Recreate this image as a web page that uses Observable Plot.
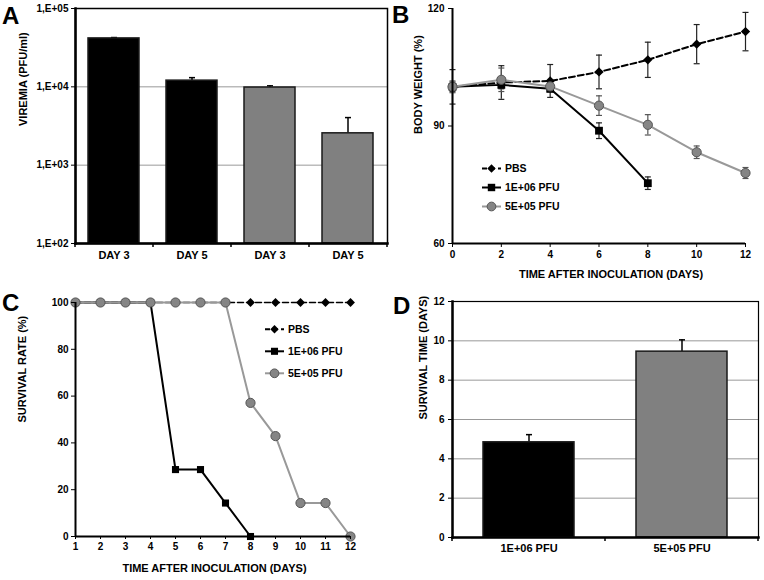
<!DOCTYPE html>
<html><head><meta charset="utf-8">
<script src="https://cdn.jsdelivr.net/npm/d3@7"></script>
<script src="https://cdn.jsdelivr.net/npm/@observablehq/plot@0.6"></script>
<style>
body{margin:0;background:#fff;}
#fig{position:relative;width:764px;height:580px;background:#fff;font-family:"Liberation Sans",Arial,sans-serif;}
#fig > svg{position:absolute;}
</style></head><body><div id="fig"></div>
<script>
// ---------- DATA ----------
// Panel A: viremia
const viremiaGroups = ["1E+06 PFU", "1E+06 PFU", "5E+05 PFU", "5E+05 PFU"];
const viremiaDays = ["DAY 3", "DAY 5", "DAY 3", "DAY 5"];
const viremiaMean = [41500, 12000, 9800, 2550];
const viremiaErr = [1100, 1100, 500, 1500];
const viremiaTicks = [100, 1000, 10000, 100000];

// Panel B: body weight
const weightDays = [0, 2, 4, 6, 8, 10, 12];
const pbsWeight = [100, 101.1, 101.5, 103.8, 106.9, 110.9, 114.1];
const pbsWeightSd = [4.4, 4.3, 4.2, 4.3, 4.5, 5.0, 4.9];
const highWeightDays = [0, 2, 4, 6, 8];
const highWeight = [100, 100.5, 99.5, 88.8, 75.4];
const highWeightSd = [1.2, 1.0, 0.8, 2.0, 1.6];
const lowWeight = [100, 101.8, 100.1, 95.2, 90.3, 83.3, 78.0];
const lowWeightSd = [1.5, 3.0, 1.0, 2.5, 2.6, 1.6, 1.4];

// Panel C: survival rate
const survDays = [1, 2, 3, 4, 5, 6, 7, 8, 9, 10, 11, 12];
const pbsSurv = [100, 100, 100, 100, 100, 100, 100, 100, 100, 100, 100, 100];
const highSurvDays = [1, 2, 3, 4, 5, 6, 7, 8];
const highSurv = [100, 100, 100, 100, 28.6, 28.6, 14.3, 0];
const lowSurv = [100, 100, 100, 100, 100, 100, 100, 57.1, 42.9, 14.3, 14.3, 0];

// Panel D: survival time
const survTimeGroups = ["1E+06 PFU", "5E+05 PFU"];
const survTimeMean = [4.84, 9.45];
const survTimeErr = [0.39, 0.6];

const groupColors = ["#000000", "#808080"];
const seriesNames = ["PBS", "1E+06 PFU", "5E+05 PFU"];

// ---------- HELPERS ----------
const FONT = '"Liberation Sans", Arial, sans-serif';
const baseStyle = {fontFamily: FONT, fontWeight: "bold", fontSize: "10px", color: "#000", background: "transparent", overflow: "visible"};
const cap = {draw(ctx, size) { const w = Math.sqrt(size / Math.PI); ctx.moveTo(-w, 0); ctx.lineTo(w, 0); }};
const fig = document.getElementById("fig");
function place(svg, left, top) { svg.style.left = left + "px"; svg.style.top = top + "px"; fig.appendChild(svg); return svg; }

function bandTicks(plot, n) {
  const sx = plot.scale("x"), sy = plot.scale("y");
  const [r0, r1] = sx.range;
  const yb = Math.max(...sy.range);
  const xs = d3.range(n + 1).map(i => r0 + i * (r1 - r0) / n);
  d3.select(plot).append("g").selectAll("line").data(xs).join("line")
    .attr("x1", d => d).attr("x2", d => d).attr("y1", yb).attr("y2", yb + 4)
    .attr("stroke", "#000").attr("stroke-width", 1.5);
}

function addLegend(svg, x0, y0, gap, items) {
  const g = d3.select(svg).append("g").attr("text-anchor", "start");
  items.forEach((it, i) => {
    const y = y0 + i * gap;
    g.append("line").attr("x1", x0).attr("x2", x0 + 19).attr("y1", y).attr("y2", y)
      .attr("stroke", it.stroke).attr("stroke-width", 2).attr("stroke-dasharray", it.dash || null);
    g.append("path").attr("transform", `translate(${x0 + 9.5},${y})`)
      .attr("d", d3.symbol(it.symbol, it.size)())
      .attr("fill", it.fill).attr("stroke", it.mstroke || "none");
    g.append("text").attr("x", x0 + 23).attr("y", y).attr("dy", "0.35em").attr("text-anchor", "start")
      .attr("font-size", 10.5).attr("font-weight", "bold").attr("font-family", FONT).text(it.label);
  });
}

// ---------- PANEL A ----------
const dataA = viremiaDays.map((d, i) => ({key: String(i), label: d, group: viremiaGroups[i], mean: viremiaMean[i], hi: viremiaMean[i] + viremiaErr[i]}));
const plotA = Plot.plot({
  width: 390, height: 290, marginLeft: 75, marginRight: 3, marginTop: 8, marginBottom: 47,
  style: baseStyle,
  x: {domain: dataA.map(d => d.key), paddingInner: 0.346, paddingOuter: 0.173, label: null},
  y: {type: "log", domain: [100, 100000], label: null},
  color: {domain: survTimeGroups, range: groupColors},
  marks: [
    Plot.ruleY([1000, 10000], {stroke: "#999", strokeWidth: 1}),
    Plot.ruleX(dataA, {x: "key", y1: "mean", y2: "hi", stroke: "#000", strokeWidth: 1.5}),
    Plot.dot(dataA, {x: "key", y: "hi", symbol: cap, r: 3, stroke: "#000", strokeWidth: 1.5, fill: "none"}),
    Plot.barY(dataA, {x: "key", y1: 100, y2: "mean", fill: "group", stroke: "#1a1a1a", strokeWidth: 1.5}),
    Plot.frame({stroke: "#000", strokeWidth: 1.5}),
    Plot.frame({anchor: "left", stroke: "#000", strokeWidth: 2.5}),
    Plot.frame({anchor: "bottom", stroke: "#000", strokeWidth: 2.5}),
    Plot.axisY({ticks: viremiaTicks, tickFormat: d => "1,E+0" + Math.round(Math.log10(d)), tickSize: 4, tickPadding: 3, fontSize: 10, label: null}),
    Plot.axisX({tickSize: 0, tickPadding: 8, tickFormat: k => dataA[+k].label, fontSize: 11, label: null}),
    Plot.text(["VIREMIA (PFU/ml)"], {frameAnchor: "left", rotate: -90, dx: -52, dy: 0, fontSize: 11, fontWeight: "bold"})
  ]
});
bandTicks(plotA, 4);
place(plotA, 0, 0);

// ---------- PANEL B ----------
const pbsRows = weightDays.map((d, i) => ({day: d, w: pbsWeight[i], lo: pbsWeight[i] - pbsWeightSd[i], hi: pbsWeight[i] + pbsWeightSd[i]}));
const highRows = highWeightDays.map((d, i) => ({day: d, w: highWeight[i], lo: highWeight[i] - highWeightSd[i], hi: highWeight[i] + highWeightSd[i]}));
const lowRows = weightDays.map((d, i) => ({day: d, w: lowWeight[i], lo: lowWeight[i] - lowWeightSd[i], hi: lowWeight[i] + lowWeightSd[i]}));
function errMarks(rows, color) {
  return [
    Plot.ruleX(rows, {x: "day", y1: "lo", y2: "hi", stroke: color, strokeWidth: 1.2}),
    Plot.dot(rows, {x: "day", y: "lo", symbol: cap, r: 3, stroke: color, strokeWidth: 1.2, fill: "none"}),
    Plot.dot(rows, {x: "day", y: "hi", symbol: cap, r: 3, stroke: color, strokeWidth: 1.2, fill: "none"})
  ];
}
const plotB = Plot.plot({
  width: 374, height: 290, marginLeft: 62, marginRight: 19, marginTop: 8, marginBottom: 47,
  style: baseStyle,
  x: {domain: [0, 12], label: null},
  y: {domain: [60, 120], label: null},
  marks: [
    ...errMarks(pbsRows, "#222"),
    ...errMarks(highRows, "#222"),
    ...errMarks(lowRows, "#555"),
    Plot.line(pbsRows, {x: "day", y: "w", stroke: "#000", strokeWidth: 2, strokeDasharray: "6,3"}),
    Plot.dot(pbsRows, {x: "day", y: "w", symbol: "diamond2", r: 4.2, fill: "#000", stroke: "none"}),
    Plot.line(highRows, {x: "day", y: "w", stroke: "#000", strokeWidth: 2}),
    Plot.dot(highRows, {x: "day", y: "w", symbol: "square", r: 4.4, fill: "#000"}),
    Plot.line(lowRows, {x: "day", y: "w", stroke: "#999", strokeWidth: 2}),
    Plot.dot(lowRows, {x: "day", y: "w", r: 4.6, fill: "#858585", stroke: "#555", strokeWidth: 1}),
    Plot.ruleX([0], {stroke: "#000", strokeWidth: 2}),
    Plot.ruleY([60], {stroke: "#000", strokeWidth: 2}),
    Plot.axisY({ticks: [60, 90, 120], tickSize: 4, tickPadding: 4, fontSize: 10, label: null}),
    Plot.axisX({ticks: weightDays, tickSize: 4, tickPadding: 3, fontSize: 10, label: null}),
    Plot.text(["BODY WEIGHT (%)"], {frameAnchor: "left", rotate: -90, dx: -34, dy: 8, fontSize: 11, fontWeight: "bold"}),
    Plot.text(["TIME AFTER INOCULATION (DAYS)"], {frameAnchor: "bottom", dx: 12, dy: 34, fontSize: 11, fontWeight: "bold"})
  ]
});
addLegend(plotB, 92, 168.5, 19, [
  {label: seriesNames[0], stroke: "#000", dash: "5,3", symbol: d3.symbolDiamond2, size: 45, fill: "#000"},
  {label: seriesNames[1], stroke: "#000", symbol: d3.symbolSquare, size: 55, fill: "#000"},
  {label: seriesNames[2], stroke: "#999", symbol: d3.symbolCircle, size: 60, fill: "#858585", mstroke: "#555"}
]);
place(plotB, 390, 0);

// ---------- PANEL C ----------
const pbsSurvRows = survDays.map((d, i) => ({day: d, s: pbsSurv[i]}));
const highSurvRows = highSurvDays.map((d, i) => ({day: d, s: highSurv[i]}));
const lowSurvRows = survDays.map((d, i) => ({day: d, s: lowSurv[i]}));
const plotC = Plot.plot({
  width: 390, height: 290, marginLeft: 75, marginRight: 40, marginTop: 12, marginBottom: 44,
  style: baseStyle,
  x: {domain: [1, 12], label: null},
  y: {domain: [0, 100], label: null},
  marks: [
    Plot.line(pbsSurvRows, {x: "day", y: "s", stroke: "#000", strokeWidth: 1.5, strokeDasharray: "6,3"}),
    Plot.dot(pbsSurvRows, {x: "day", y: "s", symbol: "diamond2", r: 4, fill: "#000", stroke: "none"}),
    Plot.line(highSurvRows, {x: "day", y: "s", stroke: "#000", strokeWidth: 2}),
    Plot.dot(highSurvRows, {x: "day", y: "s", symbol: "square", r: 4, fill: "#000"}),
    Plot.line(lowSurvRows, {x: "day", y: "s", stroke: "#999", strokeWidth: 2}),
    Plot.dot(lowSurvRows, {x: "day", y: "s", r: 4.6, fill: "#858585", stroke: "#555", strokeWidth: 1}),
    Plot.ruleX([1], {stroke: "#000", strokeWidth: 2}),
    Plot.ruleY([0], {stroke: "#000", strokeWidth: 2}),
    Plot.axisY({ticks: [0, 20, 40, 60, 80, 100], tickSize: 4, tickPadding: 3, fontSize: 10, label: null}),
    Plot.axisX({ticks: survDays, tickSize: 3, tickPadding: 3, fontSize: 10, label: null}),
    Plot.text(["SURVIVAL RATE (%)"], {frameAnchor: "left", rotate: -90, dx: -53, dy: 3, fontSize: 11, fontWeight: "bold"}),
    Plot.text(["TIME AFTER INOCULATION (DAYS)"], {frameAnchor: "bottom", dx: 1.5, dy: 35.5, fontSize: 11, fontWeight: "bold"})
  ]
});
addLegend(plotC, 265, 39.3, 22, [
  {label: seriesNames[0], stroke: "#000", dash: "5,3", symbol: d3.symbolDiamond2, size: 45, fill: "#000"},
  {label: seriesNames[1], stroke: "#000", symbol: d3.symbolSquare, size: 50, fill: "#000"},
  {label: seriesNames[2], stroke: "#999", symbol: d3.symbolCircle, size: 60, fill: "#858585", mstroke: "#555"}
]);
place(plotC, 0, 290);

// ---------- PANEL D ----------
const dataD = survTimeGroups.map((g, i) => ({group: g, mean: survTimeMean[i], hi: survTimeMean[i] + survTimeErr[i]}));
const plotD = Plot.plot({
  width: 374, height: 290, marginLeft: 62, marginRight: 6, marginTop: 11, marginBottom: 43,
  style: baseStyle,
  x: {domain: survTimeGroups, paddingInner: 0.405, paddingOuter: 0.2025, label: null},
  y: {domain: [0, 12], label: null},
  color: {domain: survTimeGroups, range: groupColors},
  marks: [
    Plot.ruleY([2, 4, 6, 8, 10], {stroke: "#999", strokeWidth: 1}),
    Plot.ruleX(dataD, {x: "group", y1: "mean", y2: "hi", stroke: "#000", strokeWidth: 1.5}),
    Plot.dot(dataD, {x: "group", y: "hi", symbol: cap, r: 3, stroke: "#000", strokeWidth: 1.5, fill: "none"}),
    Plot.barY(dataD, {x: "group", y: "mean", fill: "group", stroke: "#1a1a1a", strokeWidth: 1.5}),
    Plot.frame({stroke: "#000", strokeWidth: 1.2}),
    Plot.frame({anchor: "left", stroke: "#000", strokeWidth: 2.5}),
    Plot.frame({anchor: "bottom", stroke: "#000", strokeWidth: 2.5}),
    Plot.axisY({ticks: [0, 2, 4, 6, 8, 10, 12], tickSize: 4, tickPadding: 4, fontSize: 10, label: null}),
    Plot.axisX({tickSize: 0, tickPadding: 7, fontSize: 11, label: null}),
    Plot.text(["SURVIVAL TIME (DAYS)"], {frameAnchor: "left", rotate: -90, dx: -29, dy: 0, fontSize: 11, fontWeight: "bold"})
  ]
});
bandTicks(plotD, 2);
place(plotD, 390, 290);

// ---------- PANEL LETTERS ----------
const overlay = d3.select(fig).append("svg").attr("width", 764).attr("height", 580)
  .style("left", "0px").style("top", "0px").style("pointer-events", "none");
const letters = [["A", 2, 23.5], ["B", 392, 23], ["C", 2, 310.5], ["D", 393, 314]];
overlay.selectAll("text").data(letters).join("text")
  .attr("x", d => d[1]).attr("y", d => d[2]).text(d => d[0])
  .attr("font-family", FONT).attr("font-weight", "bold").attr("font-size", 24);
</script>
</body></html>
